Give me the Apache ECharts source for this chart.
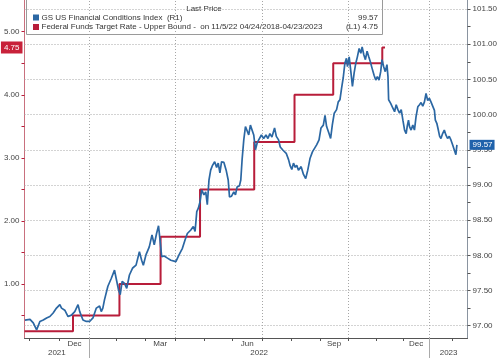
<!DOCTYPE html>
<html><head><meta charset="utf-8">
<script src="https://cdn.jsdelivr.net/npm/echarts@6/dist/echarts.min.js"></script>
<style>html,body{margin:0;padding:0;background:#fff}#c{width:500px;height:358px}</style>
</head><body><div id="c"></div>
<script>
// x unit: days relative to 1 Jan 2022
const blueX = [-68.6,-63.2,-59.7,-56.1,-54.4,-52.6,-49.0,-45.4,-41.9,-38.4,-34.8,-31.2,-29.4,-25.9,-22.4,-18.8,-15.2,-11.7,-9.9,-6.4,-2.8,0.7,4.3,7.9,11.4,13.2,14.9,16.7,20.3,23.9,27.4,29.2,31.7,33.5,35.6,38.1,40.5,43.4,46.9,50.5,54.1,56.5,58.3,61.2,64.7,67.6,70.0,72.5,74.6,75.8,78.0,80.7,84.2,87.8,93.2,96.7,100.2,103.1,105.5,109.2,111.9,113.8,115.6,117.3,119.1,120.9,123.3,125.2,126.9,128.7,130.5,132.2,134.8,136.9,138.6,140.4,142.2,144.7,147.1,149.3,150.7,152.9,155.3,157.1,158.8,161.4,162.8,164.2,166.0,167.8,169.5,171.3,173.1,174.8,176.7,178.5,180.2,182.0,184.9,187.3,189.8,191.9,194.0,196.2,199.0,200.9,203.3,205.1,207.6,209.7,211.5,214.0,215.8,217.5,219.3,221.2,222.8,224.6,227.5,230.0,232.4,234.6,237.1,239.6,241.7,244.1,246.7,248.8,251.3,253.1,254.8,257.4,259.1,260.9,263.0,265.5,267.3,269.1,270.8,272.6,274.4,276.1,277.2,279.0,280.8,282.5,284.3,286.1,287.8,289.7,291.5,292.9,294.7,296.4,298.2,300.0,301.7,303.5,305.7,307.5,309.2,311.0,312.8,314.2,316.0,317.7,319.5,320.6,321.3,323.5,325.9,327.7,329.4,331.2,333.0,334.8,336.6,338.4,340.1,341.2,342.6,343.7,345.4,347.2,349.0,350.7,352.6,354.4,356.1,357.9,359.7,361.4,363.2,365.0,366.7,368.5,370.4,371.4,373.1,374.6,376.0,377.4,379.2,381.0,382.7,384.5,386.3,388.1,389.9,391.7,393.4,394.5];
const blueY = [97.08,97.09,97.04,96.94,96.92,97.06,97.08,97.11,97.13,97.18,97.25,97.30,97.25,97.22,97.13,97.15,97.20,97.30,97.20,97.08,97.06,97.06,97.11,97.25,97.28,97.20,97.25,97.37,97.56,97.67,97.79,97.67,97.51,97.44,97.63,97.60,97.53,97.72,97.82,97.86,98.05,97.93,97.86,98.01,98.12,98.29,98.15,98.31,98.42,98.27,97.98,97.99,97.96,97.93,97.91,98.01,98.10,98.22,98.31,98.36,98.41,98.34,98.62,98.67,98.76,98.93,98.86,98.90,98.72,99.07,99.21,99.27,99.33,99.25,99.31,99.17,99.33,99.32,99.21,99.07,98.83,98.84,98.90,98.86,98.97,98.99,99.07,99.36,99.64,99.83,99.85,99.71,99.85,99.83,99.71,99.50,99.59,99.64,99.71,99.66,99.71,99.66,99.73,99.68,99.81,99.69,99.64,99.54,99.50,99.52,99.45,99.36,99.27,99.22,99.31,99.25,99.28,99.21,99.26,99.15,99.09,99.21,99.38,99.47,99.45,99.57,99.64,99.81,99.85,99.99,99.83,99.73,99.66,99.85,100.02,100.07,100.18,100.21,100.37,100.52,100.73,100.80,100.68,100.82,100.61,100.40,100.59,100.73,100.82,100.94,100.87,100.96,100.85,100.78,100.90,100.82,100.75,100.66,100.56,100.49,100.54,100.49,100.61,100.78,100.68,100.61,100.71,100.54,100.21,100.16,100.09,100.04,100.14,100.07,100.02,100.07,99.92,99.78,99.73,99.83,99.92,99.83,99.78,99.85,99.78,99.97,100.11,100.14,100.17,100.12,100.18,100.30,100.20,100.23,100.18,100.20,100.06,99.92,99.87,99.78,99.69,99.66,99.73,99.78,99.71,99.66,99.69,99.64,99.57,99.55,99.43,99.57];
const fedX = [-69.1,-17.1,32.7,76.8,119.1,177.2,220.4,261.9,314.5,317.4];
const fedY = [0.25,0.50,1.00,1.75,2.50,3.25,4.00,4.50,4.75,4.75];

const monthTicks = [-64,-32,0,29.2,60.4,92.4,123.3,153.5,186.2,217.2,247.8,277.9,307.8,336.6,365,389.8];
const monthLabelPos = [-15.5,76.4,169.8,262.9,350.8];
const monthLabels = ['Dec','Mar','Jun','Sep','Dec'];
const yearLabelPos = [-34.4,182.5,385.6];
const yearLabels = ['2021','2022','2023'];
const yearBreaks = [0,365];
const quarterGrid = [0,92.4,186.2,277.9,365];
const leftTicks = [0.5,1,1.5,2,2.5,3,3.5,4,4.5,5];
const leftLabels = [1,2,3,4,5];
const rightTicks = [97,97.25,97.5,97.75,98,98.25,98.5,98.75,99,99.25,99.5,99.75,100,100.25,100.5,100.75,101,101.25,101.5];
const rightLabels = [97,97.5,98,98.5,99,99.5,100,100.5,101,101.5];

const BLUE = '#2b67a3', RED = '#b81d3a';
const FONT = 'Liberation Sans, Arial, sans-serif';
function nearest(pos, labels, v){let b=0;for(let i=1;i<pos.length;i++){if(Math.abs(pos[i]-v)<Math.abs(pos[b]-v))b=i;}return labels[b];}
const lastBlue = blueY[blueY.length-1], lastFed = fedY[fedY.length-1];
const XMIN = -69.1, XMAX = 405.9;

const chart = echarts.init(document.getElementById('c'), null, {renderer:'canvas'});
chart.setOption({
  animation:false,
  textStyle:{fontFamily:FONT},
  grid:{left:24.5,right:30,top:0,bottom:20,containLabel:false},
  xAxis:[{
    type:'value',min:XMIN,max:XMAX,position:'bottom',
    axisLine:{onZero:false,lineStyle:{color:'#555',width:1}},
    axisTick:{customValues:monthTicks,length:3,lineStyle:{color:'#555'}},
    axisLabel:{customValues:monthLabelPos,formatter:v=>nearest(monthLabelPos,monthLabels,v),margin:2,fontSize:8,color:'#444',fontFamily:FONT},
    splitLine:{show:false}
  },{
    type:'value',min:XMIN,max:XMAX,position:'bottom',
    axisLine:{show:false,onZero:false},
    axisTick:{customValues:yearBreaks,length:20,lineStyle:{color:'#aaa'}},
    axisLabel:{customValues:yearLabelPos,formatter:v=>nearest(yearLabelPos,yearLabels,v),margin:11,fontSize:8,color:'#444',fontFamily:FONT},
    splitLine:{show:false}
  }],
  yAxis:[{
    type:'value',min:0.144,max:5.503,position:'left',
    axisLine:{show:true,onZero:false,lineStyle:{color:'#c9707e'}},
    axisTick:{show:true,customValues:leftTicks,length:3,lineStyle:{color:RED}},
    axisLabel:{customValues:leftLabels,formatter:v=>v.toFixed(2),margin:5,fontSize:8,color:'#444',fontFamily:FONT},
    splitLine:{show:false},
    axisPointer:{show:true,status:'show',value:lastFed,snap:false,triggerTooltip:false,
      lineStyle:{opacity:0,width:0},
      label:{show:true,formatter:p=>Number(p.value).toFixed(2),backgroundColor:'#c8213a',color:'#fff',padding:[2,3,2,3],fontSize:8,margin:2,fontFamily:FONT,borderRadius:0}}
  },{
    type:'value',min:96.825,max:101.628,position:'right',
    axisLine:{show:true,onZero:false,lineStyle:{color:'#8a94a0'}},
    axisTick:{show:true,customValues:rightTicks,length:3,lineStyle:{color:'#555'}},
    axisLabel:{customValues:rightLabels,formatter:v=>v.toFixed(2),margin:5,fontSize:8,color:'#444',fontFamily:FONT},
    splitLine:{show:false},
    axisPointer:{show:true,status:'show',value:lastBlue,snap:false,triggerTooltip:false,
      lineStyle:{opacity:0,width:0},
      label:{show:true,formatter:p=>Number(p.value).toFixed(2),backgroundColor:'#1f62ab',color:'#fff',padding:[1,2,1,3],fontSize:8,margin:2,fontFamily:FONT,borderRadius:0}}
  }],
  series:[{
    name:'GS US Financial Conditions Index',type:'line',xAxisIndex:0,yAxisIndex:1,
    data:blueX.map((x,i)=>[x,blueY[i]]),showSymbol:false,symbol:'none',z:3,
    lineStyle:{color:BLUE,width:1.7},emphasis:{disabled:true},
    markLine:{silent:true,symbol:['none','none'],z:1,animation:false,label:{show:false},
      lineStyle:{color:'#a6a6a6',type:[1,2],width:1},
      emphasis:{disabled:true},
      data:quarterGrid.map(v=>({xAxis:v})).concat(rightLabels.map(v=>({yAxis:v})))}
  },{
    name:'Federal Funds Target Rate - Upper Bound',type:'line',step:'end',xAxisIndex:0,yAxisIndex:0,
    data:fedX.map((x,i)=>[x,fedY[i]]),showSymbol:false,symbol:'none',z:2,
    lineStyle:{color:RED,width:2},emphasis:{disabled:true}
  }],
  graphic:[{
    type:'group',left:26,top:-1,z:100,
    children:[
      {type:'rect',shape:{x:0.5,y:0.5,width:356,height:35},style:{fill:'#fff',stroke:'#9a9a9a',lineWidth:1}},
      {type:'text',x:178,y:9.5,style:{text:'Last Price',font:'8px '+FONT,fill:'#333',align:'center',verticalAlign:'middle'}},
      {type:'rect',shape:{x:7,y:15.5,width:6,height:6},style:{fill:BLUE}},
      {type:'text',x:15.5,y:18.5,style:{text:'GS US Financial Conditions Index  (R1)',font:'8px '+FONT,fill:'#333',verticalAlign:'middle'}},
      {type:'text',x:352,y:18.5,style:{text:lastBlue.toFixed(2),font:'8px '+FONT,fill:'#333',align:'right',verticalAlign:'middle'}},
      {type:'rect',shape:{x:7,y:25,width:6,height:6},style:{fill:RED}},
      {type:'text',x:15.5,y:28,style:{text:'Federal Funds Target Rate - Upper Bound -  on 11/5/22 04/24/2018-04/23/2023',font:'8px '+FONT,fill:'#333',verticalAlign:'middle'}},
      {type:'text',x:352,y:28,style:{text:'(L1) '+lastFed.toFixed(2),font:'8px '+FONT,fill:'#333',align:'right',verticalAlign:'middle'}}
    ]
  }]
});
</script></body></html>
